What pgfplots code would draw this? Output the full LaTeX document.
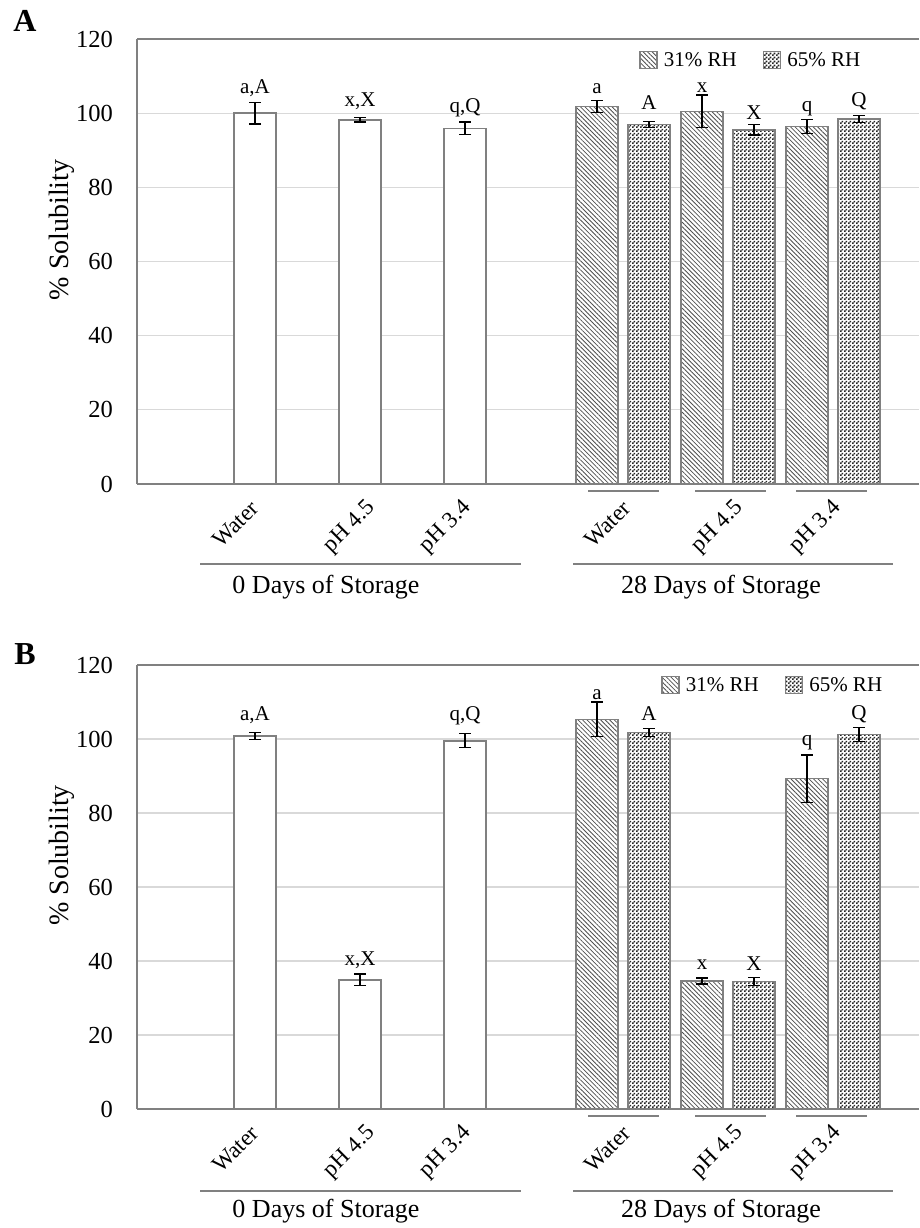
\documentclass[border=0pt]{standalone}
\usepackage{fontspec}
\setmainfont{Liberation Serif}
\usepackage{pgfplots}
\usepackage{pgfplotstable}
\pgfplotsset{compat=1.18}
\usetikzlibrary{patterns,patterns.meta}

\pgfdeclarepatternformonly{mycheck}{\pgfpointorigin}{\pgfqpoint{4pt}{4pt}}{\pgfqpoint{4pt}{4pt}}{%
  \pgfpathrectangle{\pgfpointorigin}{\pgfqpoint{2pt}{2pt}}%
  \pgfpathrectangle{\pgfqpoint{2pt}{2pt}}{\pgfqpoint{2pt}{2pt}}%
  \pgfusepath{fill}}

\definecolor{axgray}{HTML}{808080}
\definecolor{gridgray}{HTML}{D9D9D9}
\definecolor{patgray}{HTML}{505050}
\definecolor{chkgray}{HTML}{262626}

% ---------- data panel A ----------
\pgfplotstableread{
x y e
118 100.0 2.9
223 98.2 0.6
328 95.9 1.7
}\AzeroDay
\pgfplotstableread{
x y e
460 101.8 1.7
565 100.5 4.4
670 96.4 1.8
}\AlowRH
\pgfplotstableread{
x y e
512 97.0 0.85
617 95.5 1.4
722 98.4 0.95
}\AhighRH
\pgfplotstableread{
x y l
118 105.4 a,A
223 101.7 x,X
328 100.1 q,Q
460 105.4 a
512 100.9 A
565 105.6 x
617 98.4 X
670 100.4 q
722 101.9 Q
}\Alabels
% ---------- data panel B ----------
\pgfplotstableread{
x y e
118 100.8 0.9
223 34.9 1.6
328 99.5 1.9
}\BzeroDay
\pgfplotstableread{
x y e
460 105.3 4.7
565 34.6 0.8
670 89.3 6.4
}\BlowRH
\pgfplotstableread{
x y e
512 101.8 1.1
617 34.5 1.1
722 101.2 1.8
}\BhighRH
\pgfplotstableread{
x y l
118 105.1 a,A
223 38.7 x,X
328 104.9 q,Q
460 110.8 a
512 105.1 A
565 37.8 x
617 37.5 X
670 98.2 q
722 105.4 Q
}\Blabels

\pgfplotsset{
  panel/.style={
    scale only axis, width=782pt,
    xmin=0, xmax=782, ymin=0, ymax=120,
    ytick={0,20,...,120},
    ymajorgrids, grid style={gridgray, line width=1.3pt},
    axis x line=box, axis y line=left,
    axis line style={-, axgray, line width=1.8pt},
    major tick length=0pt,
    /pgf/number format/assume math mode=true,
    yticklabel style={font=\fontsize{24.5}{28}\selectfont, inner sep=0pt, xshift=-24pt},
    xtick={118,235,331,490,603,701},
    xticklabels={Water,pH 4.5,pH 3.4,Water,pH 4.5,pH 3.4},
    xticklabel style={font=\fontsize{23}{26}\selectfont, inner sep=0pt, yshift=-21pt, rotate=45, anchor=east},
    ylabel={\% Solubility},
    every axis y label/.style={at={(rel axis cs:-0.0959,0.571)}, rotate=90, anchor=center, font=\fontsize{28}{32}\selectfont},
    legend columns=2,
    legend style={draw=none, fill=none, font=\fontsize{21}{24}\selectfont, anchor=center,
      /tikz/every odd column/.append style={column sep=4pt},
      /tikz/every even column/.append style={column sep=24pt},
      nodes={inner sep=2pt}},
    legend image code/.code={\draw[#1] (0pt,-8.5pt) rectangle (17pt,8.5pt);},
    error bars/error bar style={black, line width=1.2pt},
    error bars/error mark options={black, rotate=90, mark size=6pt, line width=1.2pt},
    clip=false,
  },
  barbase/.style={ybar, bar shift=0pt, bar width=42, draw=axgray, line width=1.5pt},
  whitebar/.style={barbase, fill=white},
  lowbar/.style={barbase, preaction={fill=white},
    pattern={Lines[angle=-45,distance=3.2pt,line width=0.8pt]}, pattern color=patgray},
  highbar/.style={barbase, preaction={fill=white},
    pattern=mycheck, pattern color=chkgray},
  lettlab/.style={draw=none, mark=none, forget plot, nodes near coords,
    point meta=explicit symbolic,
    nodes near coords style={anchor=base, inner sep=0pt, font=\fontsize{21}{24}\selectfont, black}},
}

\begin{document}
\begin{tikzpicture}
\useasboundingbox (0,0) rectangle (919pt,1228pt);

% ================= Panel A =================
\begin{axis}[panel, height=445pt, at={(137pt,744pt)}, anchor=south west,
  legend style={at={(rel axis cs:0.785,0.953)}}]
\addplot[whitebar, forget plot, error bars/.cd, y dir=both, y explicit] table[x=x,y=y,y error=e] {\AzeroDay};
\addplot[lowbar, error bars/.cd, y dir=both, y explicit] table[x=x,y=y,y error=e] {\AlowRH};
\addplot[highbar, error bars/.cd, y dir=both, y explicit] table[x=x,y=y,y error=e] {\AhighRH};
\addplot[lettlab] table[x=x,y=y,meta=l] {\Alabels};
\legend{31\% RH, 65\% RH}
\end{axis}

% ================= Panel B =================
\begin{axis}[panel, height=444pt, at={(137pt,119pt)}, anchor=south west,
  legend style={at={(rel axis cs:0.813,0.955)}}]
\addplot[whitebar, forget plot, error bars/.cd, y dir=both, y explicit] table[x=x,y=y,y error=e] {\BzeroDay};
\addplot[lowbar, error bars/.cd, y dir=both, y explicit] table[x=x,y=y,y error=e] {\BlowRH};
\addplot[highbar, error bars/.cd, y dir=both, y explicit] table[x=x,y=y,y error=e] {\BhighRH};
\addplot[lettlab] table[x=x,y=y,meta=l] {\Blabels};
\legend{31\% RH, 65\% RH}
\end{axis}

% ---------- panel letters ----------
\node[font=\fontsize{32}{36}\selectfont\bfseries] at (25pt,1207pt) {A};
\node[font=\fontsize{32}{36}\selectfont\bfseries] at (25pt,574pt) {B};

% ---------- multi-level category lines and labels ----------
\begin{scope}[axgray, line width=1.5pt]
  \draw (588pt,737pt) -- (659pt,737pt);
  \draw (695pt,737pt) -- (766pt,737pt);
  \draw (796pt,737pt) -- (867pt,737pt);
  \draw (200pt,664pt) -- (521pt,664pt);
  \draw (573pt,664pt) -- (893pt,664pt);
  \draw (588pt,112pt) -- (659pt,112pt);
  \draw (695pt,112pt) -- (766pt,112pt);
  \draw (796pt,112pt) -- (867pt,112pt);
  \draw (200pt,37pt) -- (521pt,37pt);
  \draw (573pt,37pt) -- (893pt,37pt);
\end{scope}
\node[font=\fontsize{26}{30}\selectfont, anchor=base, inner sep=0pt] at (326pt,634pt) {0 Days of Storage};
\node[font=\fontsize{26}{30}\selectfont, anchor=base, inner sep=0pt] at (721pt,634pt) {28 Days of Storage};
\node[font=\fontsize{26}{30}\selectfont, anchor=base, inner sep=0pt] at (326pt,10pt) {0 Days of Storage};
\node[font=\fontsize{26}{30}\selectfont, anchor=base, inner sep=0pt] at (721pt,10pt) {28 Days of Storage};
\end{tikzpicture}
\end{document}
